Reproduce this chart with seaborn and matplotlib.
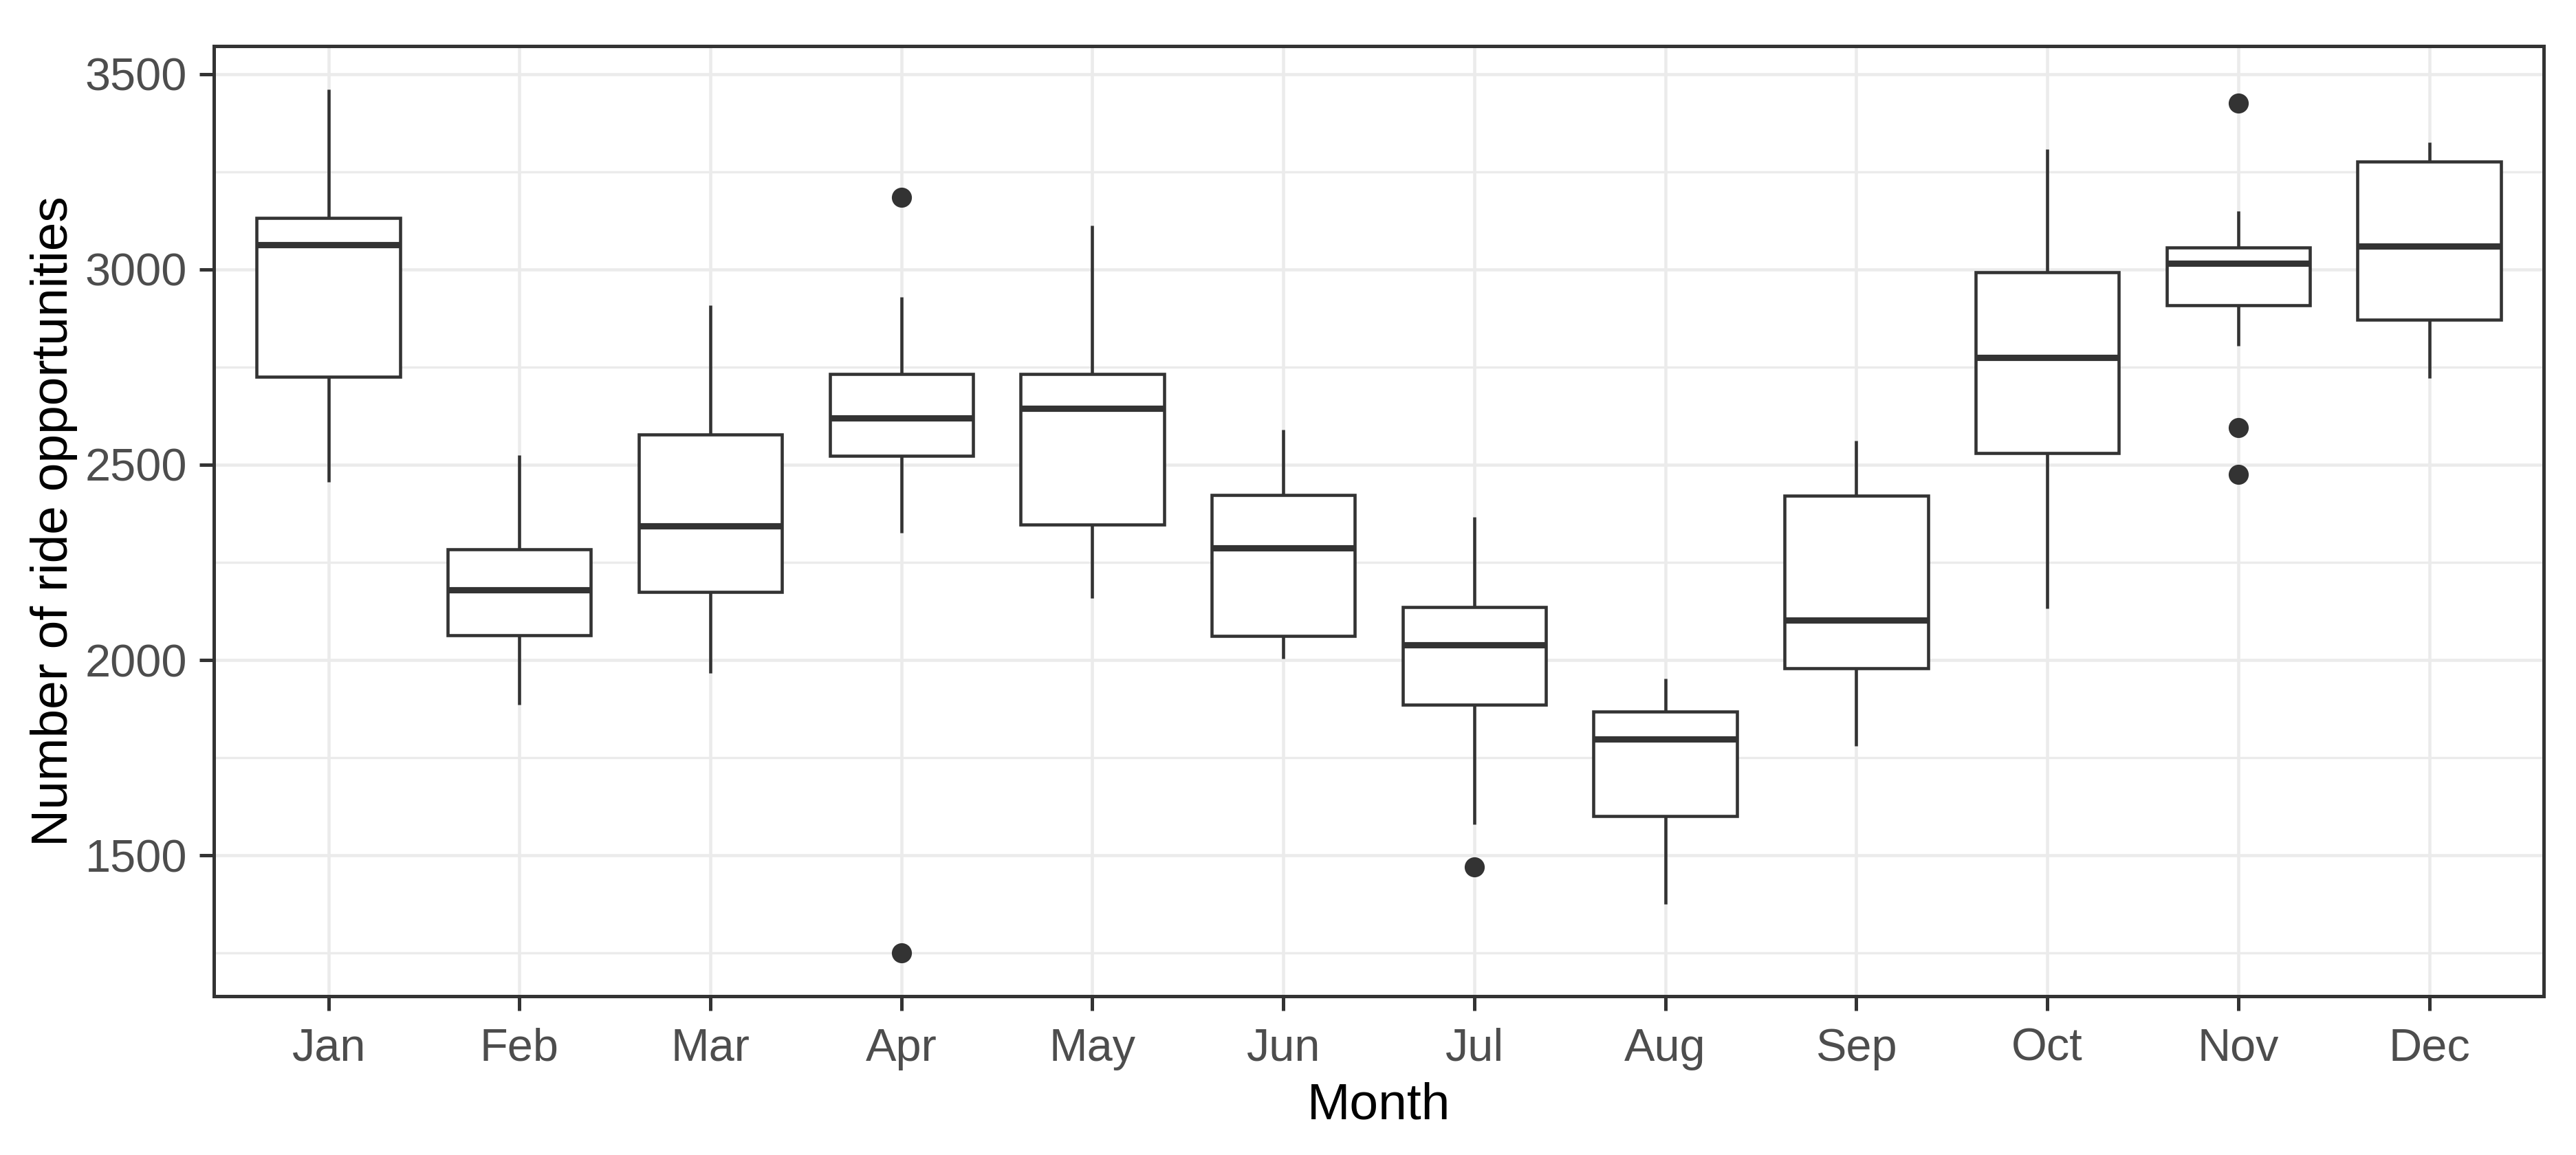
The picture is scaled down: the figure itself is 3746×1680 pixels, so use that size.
import numpy as np
import pandas as pd
import matplotlib
matplotlib.use("Agg")
import matplotlib.pyplot as plt
from matplotlib.ticker import FixedLocator
import seaborn as sns

# box statistics, one entry per month
months = ["Jan", "Feb", "Mar", "Apr", "May", "Jun",
          "Jul", "Aug", "Sep", "Oct", "Nov", "Dec"]
whisker_low = [2456, 1885, 1967, 2325, 2158, 2004, 1580, 1375, 1781, 2133, 2805, 2721]
q1 = [2726, 2064, 2174, 2523, 2346, 2061, 1886, 1600, 1979, 2530, 2909, 2872]
median = [3064, 2180, 2344, 2620, 2645, 2287, 2039, 1798, 2103, 2774, 3016, 3059]
q3 = [3132, 2283, 2578, 2733, 2733, 2423, 2136, 1868, 2421, 2992, 3056, 3277]
whisker_high = [3461, 2524, 2909, 2929, 3113, 2590, 2367, 1953, 2562, 3307, 3150, 3326]
outliers = {"Apr": [1250, 3185], "Jul": [1471], "Nov": [2475, 2595, 3425]}


def month_points(i):
    # points whose linear quartiles / whiskers give back the values above
    out = outliers.get(months[i], [])
    low = sorted(o for o in out if o < median[i]) + [whisker_low[i]]
    high = [whisker_high[i]] + sorted(o for o in out if o > median[i])
    m = max(len(low), len(high))
    low = low[:-1] + [whisker_low[i]] * (m - len(low) + 1)
    high = [whisker_high[i]] * (m - len(high) + 1) + high[1:]
    return low + [q1[i]] * m + [median[i]] + [q3[i]] * m + high


rows = []
for i, mon in enumerate(months):
    for v in month_points(i):
        rows.append({"Month": mon, "rides": v})
df = pd.DataFrame(rows)

sns.set_theme(style="white")
plt.rcParams["font.family"] = ["Liberation Sans", "DejaVu Sans"]

fig, ax = plt.subplots(figsize=(3746 / 300, 1680 / 300), dpi=300)
fig.subplots_adjust(left=0.083, right=0.9875, top=0.960, bottom=0.1375)

dark = "#333333"
sns.boxplot(data=df, x="Month", y="rides", order=months, width=0.75,
            color="white", linecolor=dark, linewidth=1.1, showcaps=False,
            medianprops={"linewidth": 2.2, "color": dark},
            flierprops={"marker": "o", "markerfacecolor": dark,
                        "markeredgecolor": dark, "markersize": 6},
            ax=ax)

ax.set_xlim(-0.6, 11.6)
ax.set_ylim(1139.5, 3571.5)
ax.yaxis.set_major_locator(FixedLocator([1500, 2000, 2500, 3000, 3500]))
ax.yaxis.set_minor_locator(FixedLocator([1250, 1750, 2250, 2750, 3250]))

ax.set_axisbelow(True)
ax.grid(which="major", color="#EBEBEB", linewidth=1.1)
ax.grid(which="minor", axis="y", color="#EBEBEB", linewidth=0.8)
for s in ax.spines.values():
    s.set_color(dark)
    s.set_linewidth(1.2)

ax.tick_params(axis="both", which="major", length=5, width=1.2, color=dark,
               labelsize=16, labelcolor="#4D4D4D", left=True, bottom=True)
ax.tick_params(axis="x", pad=6)
ax.tick_params(axis="y", pad=4.3)
ax.tick_params(axis="y", which="minor", length=0)

ax.set_xlabel("Month", fontsize=18, color="black", labelpad=4)
ax.set_ylabel("Number of ride opportunities", fontsize=18, color="black", labelpad=2.5)

fig.savefig("out.png", dpi=300)
